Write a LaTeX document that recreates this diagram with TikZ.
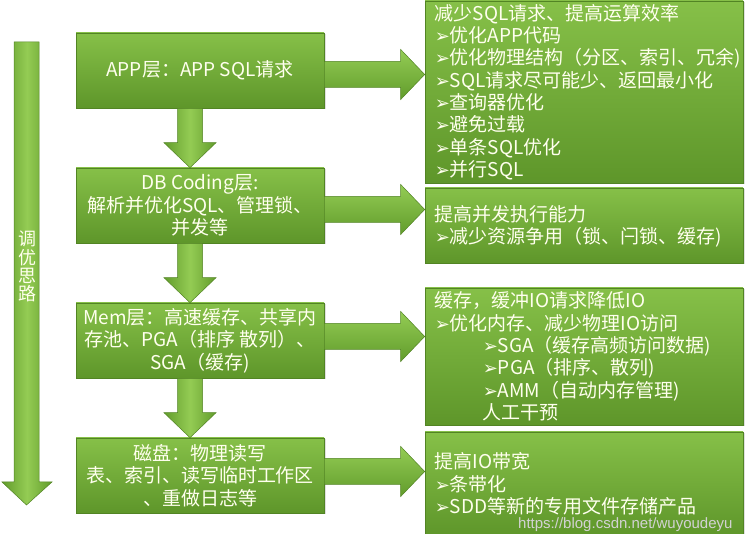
\documentclass[tikz,border=0pt]{standalone}
\usepackage{fontspec}
\setmainfont{Noto Sans CJK SC}
\newfontfamily\symfont{DejaVu Sans}
\newfontfamily\urlfont{Liberation Sans}
\usetikzlibrary{calc,shadows}
\definecolor{gtop}{RGB}{134,192,72}
\definecolor{gbot}{RGB}{94,150,42}
\definecolor{gedge}{RGB}{82,132,36}
\definecolor{atop}{RGB}{148,204,84}
\definecolor{abot}{RGB}{98,156,44}
\definecolor{txt}{RGB}{255,255,238}
\newcommand\bul{{\symfont\fontsize{18}{18}\selectfont ➢}}
\newcommand\rarrow[3]{%
  \path[harr] let \p1=($(#1.east)+(0,#3)$), \p2=(#2.west) in
    (\x1,\y1+13pt) -- (\x2-24pt,\y1+13pt) -- (\x2-24pt,\y1+25pt) -- (\x2,\y1)
    -- (\x2-24pt,\y1-25pt) -- (\x2-24pt,\y1-13pt) -- (\x1,\y1-13pt) -- cycle;}
\newcommand\darrow[3]{%
  \path[varr] let \p1=($(#1.south)+(#3,0)$), \p2=(#2.north) in
    (\x1-12.5pt,\y1) -- (\x1+12.5pt,\y1) -- (\x1+12.5pt,\y2+25pt) -- (\x1+26pt,\y2+25pt)
    -- (\x1,\y2) -- (\x1-26pt,\y2+25pt) -- (\x1-12.5pt,\y2+25pt) -- cycle;}
\begin{document}
\begin{tikzpicture}[x=1pt,y=-1pt,
  lbox/.style={draw=gedge, line width=0.6pt, top color=gtop, bottom color=gbot,
    drop shadow={shadow xshift=1.5pt, shadow yshift=-1.5pt, opacity=0.25},
    minimum width=248pt, minimum height=75pt, inner sep=2pt, align=center,
    text=txt, font=\fontsize{19}{22.5}\selectfont},
  rbox/.style={draw=gedge, line width=0.6pt, top color=gtop, bottom color=gbot,
    drop shadow={shadow xshift=1.5pt, shadow yshift=-1.5pt, opacity=0.25},
    minimum width=318pt, inner sep=0pt},
  rtxt/.style={anchor=west, align=left, inner sep=0pt, text=txt,
    font=\fontsize{19}{22.3}\selectfont},
  harr/.style={draw=gedge, line width=0.5pt, top color=atop, bottom color=abot},
  varr/.style={draw=gedge, line width=0.5pt, left color=abot, right color=abot, middle color=atop}]
\useasboundingbox (0,0) rectangle (753,534);
% left tall arrow
\path[varr] (14,42) -- (39,42) -- (39,482) -- (52,482) -- (26.5,505) -- (2,482) -- (14,482) -- cycle;
\node[text=txt, align=center, inner sep=0pt, font=\fontsize{18}{18.3}\selectfont] (idea) at (27,266.5) {调\\优\\思\\路};
% left boxes
\node[lbox] (app) at (200,70.5) {APP层：APP SQL请求};
\node[lbox] (db) at (200,205.5) {DB Coding层:\\解析并优化SQL、管理锁、\\并发等};
\node[lbox] (mem) at (200,340.5) {Mem层：高速缓存、共享内\\存池、PGA（排序 散列）、\\SGA（缓存)};
\node[lbox] (disk) at (200,475.5) {磁盘：物理读写\\表、索引、读写临时工作区\\、重做日志等};
% right boxes
\node[rbox, minimum height=182pt] (r1) at (584,92) {};
\node[rbox, minimum height=75pt] (r2) at (584,225.5) {};
\node[rbox, minimum height=137pt] (r3) at (584,356.5) {};
\node[rbox, minimum height=104pt] (r4) at (584,484) {};
\node[rtxt] (t1) at ($(r1.west)+(10,0)$) {减少SQL请求、提高运算效率\\\bul 优化APP代码\\\bul 优化物理结构（分区、索引、冗余)\\\bul SQL请求尽可能少、返回最小化\\\bul 查询器优化\\\bul 避免过载\\\bul 单条SQL优化\\\bul 并行SQL};
\node[rtxt] (t2) at ($(r2.west)+(10,1)$) {提高并发执行能力\\\bul 减少资源争用（锁、闩锁、缓存)};
\node[rtxt] (t3) at ($(r3.west)+(10,0)$) {缓存，缓冲IO请求降低IO\\\bul 优化内存、减少物理IO访问\\\hspace*{48pt}\bul SGA（缓存高频访问数据)\\\hspace*{48pt}\bul PGA（排序、散列)\\\hspace*{48pt}\bul AMM（自动内存管理)\\\hspace*{48pt}人工干预};
\node[rtxt] (t4) at ($(r4.west)+(10,0)$) {提高IO带宽\\\bul 条带化\\\bul SDD等新的专用文件存储产品};
% arrows
\darrow{app}{db}{-10}
\darrow{db}{mem}{-10}
\darrow{mem}{disk}{-10}
\rarrow{app}{r1}{4}
\rarrow{db}{r2}{4}
\rarrow{mem}{r3}{-4}
\rarrow{disk}{r4}{-4}
% watermark
\node[anchor=west, inner sep=0pt, text=gray!35!white, font=\urlfont\fontsize{15}{15}\selectfont] (wm) at (518,524.5) {https://blog.csdn.net/wuyoudeyu};
\end{tikzpicture}
\end{document}
